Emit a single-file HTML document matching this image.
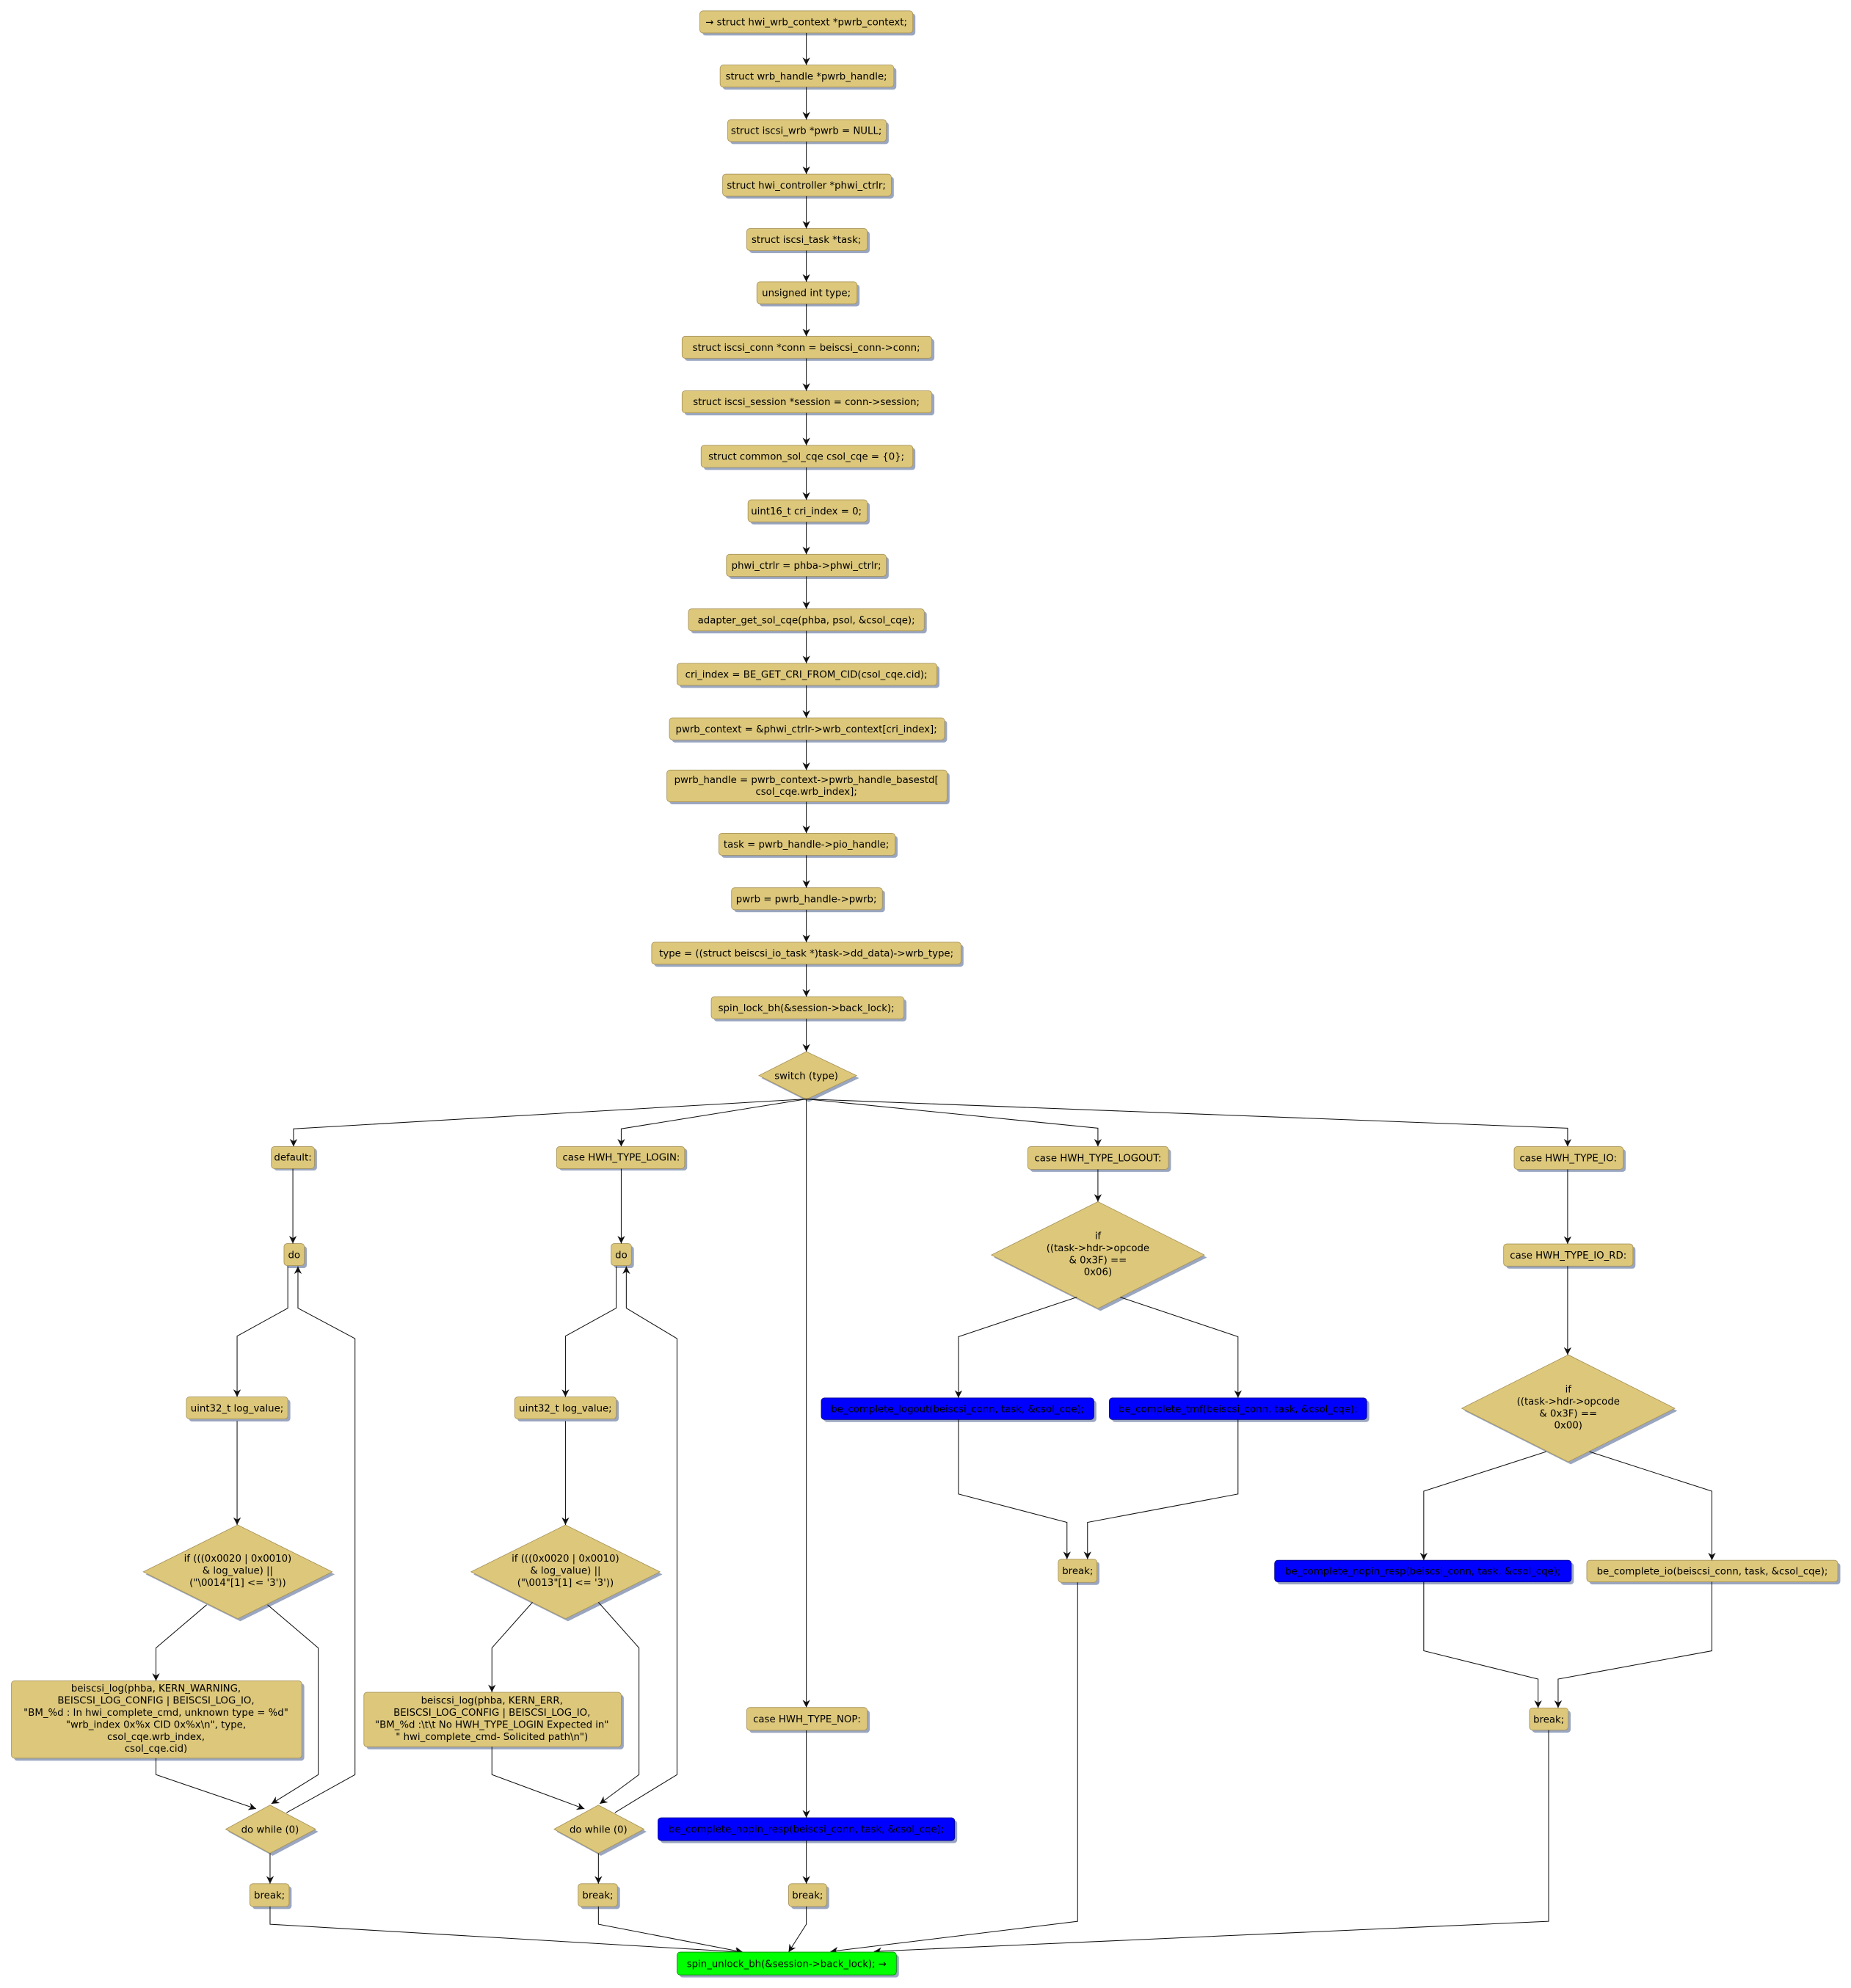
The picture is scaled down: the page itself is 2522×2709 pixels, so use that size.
<!DOCTYPE html>
<html><head><meta charset="utf-8"><style>
html,body{margin:0;padding:0;background:#fff;}
svg{display:block;}
text{font-family:"DejaVu Sans","Liberation Sans",sans-serif;font-size:7.7px;fill:#000;text-anchor:middle;}
.b{fill:#DCC77B;stroke:#A8945A;stroke-width:0.5;}
.bl{fill:#0000FF;stroke:#00008a;stroke-width:0.5;}
.gr{fill:#00FF00;stroke:#008a00;stroke-width:0.5;}
.s{fill:#9AA6C0;}
.e{fill:none;stroke:#111;stroke-width:0.6;}
</style></head><body>
<svg width="2522" height="2709" viewBox="0 0 1460 1568.3" xmlns="http://www.w3.org/2000/svg">
<defs>
<marker id="a" viewBox="0 0 10 10" refX="10" refY="5" markerUnits="userSpaceOnUse" markerWidth="6" markerHeight="6" orient="auto"><path d="M0,0 L10,5 L0,10 L3,5 z" fill="#111"/></marker>
</defs>

<g>
<rect class="s" x="554" y="10.6" width="168" height="17.4" rx="2.5"/><rect class="b" x="552" y="8.6" width="168" height="17.4" rx="2.5"/><text x="636" y="20">→ struct hwi_wrb_context *pwrb_context;</text>
<rect class="s" x="570" y="53.3" width="137" height="17.4" rx="2.5"/><rect class="b" x="568" y="51.3" width="137" height="17.4" rx="2.5"/><text x="636" y="62.7">struct wrb_handle *pwrb_handle;</text>
<rect class="s" x="576" y="96.3" width="125" height="17.4" rx="2.5"/><rect class="b" x="574" y="94.3" width="125" height="17.4" rx="2.5"/><text x="636" y="105.7">struct iscsi_wrb *pwrb = NULL;</text>
<rect class="s" x="572" y="139.3" width="133" height="17.4" rx="2.5"/><rect class="b" x="570" y="137.3" width="133" height="17.4" rx="2.5"/><text x="636" y="148.7">struct hwi_controller *phwi_ctrlr;</text>
<rect class="s" x="591" y="182.3" width="95" height="17.4" rx="2.5"/><rect class="b" x="589" y="180.3" width="95" height="17.4" rx="2.5"/><text x="636" y="191.7">struct iscsi_task *task;</text>
<rect class="s" x="599" y="224.3" width="79" height="17.4" rx="2.5"/><rect class="b" x="597" y="222.3" width="79" height="17.4" rx="2.5"/><text x="636" y="233.7">unsigned int type;</text>
<rect class="s" x="540" y="267.3" width="197" height="17.4" rx="2.5"/><rect class="b" x="538" y="265.3" width="197" height="17.4" rx="2.5"/><text x="636" y="276.7">struct iscsi_conn *conn = beiscsi_conn-&gt;conn;</text>
<rect class="s" x="540" y="310.3" width="197" height="17.4" rx="2.5"/><rect class="b" x="538" y="308.3" width="197" height="17.4" rx="2.5"/><text x="636" y="319.7">struct iscsi_session *session = conn-&gt;session;</text>
<rect class="s" x="555" y="353.3" width="167" height="17.4" rx="2.5"/><rect class="b" x="553" y="351.3" width="167" height="17.4" rx="2.5"/><text x="636" y="362.7">struct common_sol_cqe csol_cqe = {0};</text>
<rect class="s" x="592" y="396.3" width="94" height="17.4" rx="2.5"/><rect class="b" x="590" y="394.3" width="94" height="17.4" rx="2.5"/><text x="636" y="405.7">uint16_t cri_index = 0;</text>
<rect class="s" x="575" y="439.3" width="126" height="17.4" rx="2.5"/><rect class="b" x="573" y="437.3" width="126" height="17.4" rx="2.5"/><text x="636" y="448.7">phwi_ctrlr = phba-&gt;phwi_ctrlr;</text>
<rect class="s" x="545" y="482.3" width="186" height="17.4" rx="2.5"/><rect class="b" x="543" y="480.3" width="186" height="17.4" rx="2.5"/><text x="636" y="491.7">adapter_get_sol_cqe(phba, psol, &amp;csol_cqe);</text>
<rect class="s" x="536" y="525.3" width="205" height="17.4" rx="2.5"/><rect class="b" x="534" y="523.3" width="205" height="17.4" rx="2.5"/><text x="636" y="534.7">cri_index = BE_GET_CRI_FROM_CID(csol_cqe.cid);</text>
<rect class="s" x="530" y="568.3" width="217" height="17.4" rx="2.5"/><rect class="b" x="528" y="566.3" width="217" height="17.4" rx="2.5"/><text x="636" y="577.7">pwrb_context = &amp;phwi_ctrlr-&gt;wrb_context[cri_index];</text>
<rect class="s" x="528" y="609.5" width="221" height="25" rx="2.5"/><rect class="b" x="526" y="607.5" width="221" height="25" rx="2.5"/><text x="636" y="617.6">pwrb_handle = pwrb_context-&gt;pwrb_handle_basestd[</text><text x="636" y="627">csol_cqe.wrb_index];</text>
<rect class="s" x="569" y="659.3" width="139" height="17.4" rx="2.5"/><rect class="b" x="567" y="657.3" width="139" height="17.4" rx="2.5"/><text x="636" y="668.7">task = pwrb_handle-&gt;pio_handle;</text>
<rect class="s" x="579" y="702.3" width="119" height="17.4" rx="2.5"/><rect class="b" x="577" y="700.3" width="119" height="17.4" rx="2.5"/><text x="636" y="711.7">pwrb = pwrb_handle-&gt;pwrb;</text>
<rect class="s" x="516" y="745.3" width="244" height="17.4" rx="2.5"/><rect class="b" x="514" y="743.3" width="244" height="17.4" rx="2.5"/><text x="636" y="754.7">type = ((struct beiscsi_io_task *)task-&gt;dd_data)-&gt;wrb_type;</text>
<rect class="s" x="563" y="788.3" width="152" height="17.4" rx="2.5"/><rect class="b" x="561" y="786.3" width="152" height="17.4" rx="2.5"/><text x="636" y="797.7">spin_lock_bh(&amp;session-&gt;back_lock);</text>
<polygon class="s" points="638,831.6 677.6,850.5 638,869.3 600.6,850.5"/><polygon class="b" points="636,829.6 675.6,848.5 636,867.3 598.6,848.5"/><text x="636" y="851.2">switch (type)</text>
</g>

<g>
<line class="e" x1="636" y1="26" x2="636" y2="51.3" marker-end="url(#a)"/>
<line class="e" x1="636" y1="68.7" x2="636" y2="94.3" marker-end="url(#a)"/>
<line class="e" x1="636" y1="111.7" x2="636" y2="137.3" marker-end="url(#a)"/>
<line class="e" x1="636" y1="154.7" x2="636" y2="180.3" marker-end="url(#a)"/>
<line class="e" x1="636" y1="197.7" x2="636" y2="222.3" marker-end="url(#a)"/>
<line class="e" x1="636" y1="239.7" x2="636" y2="265.3" marker-end="url(#a)"/>
<line class="e" x1="636" y1="282.7" x2="636" y2="308.3" marker-end="url(#a)"/>
<line class="e" x1="636" y1="325.7" x2="636" y2="351.3" marker-end="url(#a)"/>
<line class="e" x1="636" y1="368.7" x2="636" y2="394.3" marker-end="url(#a)"/>
<line class="e" x1="636" y1="411.7" x2="636" y2="437.3" marker-end="url(#a)"/>
<line class="e" x1="636" y1="454.7" x2="636" y2="480.3" marker-end="url(#a)"/>
<line class="e" x1="636" y1="497.7" x2="636" y2="523.3" marker-end="url(#a)"/>
<line class="e" x1="636" y1="540.7" x2="636" y2="566.3" marker-end="url(#a)"/>
<line class="e" x1="636" y1="583.7" x2="636" y2="607.5" marker-end="url(#a)"/>
<line class="e" x1="636" y1="632.5" x2="636" y2="657.3" marker-end="url(#a)"/>
<line class="e" x1="636" y1="674.7" x2="636" y2="700.3" marker-end="url(#a)"/>
<line class="e" x1="636" y1="717.7" x2="636" y2="743.3" marker-end="url(#a)"/>
<line class="e" x1="636" y1="760.7" x2="636" y2="786.3" marker-end="url(#a)"/>
<line class="e" x1="636" y1="803.7" x2="636" y2="829.6" marker-end="url(#a)"/>
<polyline class="e" points="636,867 231.5,890.5 231.5,904.5" marker-end="url(#a)"/>
<polyline class="e" points="636,867 490,890.5 490,904.5" marker-end="url(#a)"/>
<polyline class="e" points="636,867 866,890 866,904.5" marker-end="url(#a)"/>
<polyline class="e" points="636,867 1236.5,890 1236.5,904.5" marker-end="url(#a)"/>
<line class="e" x1="636" y1="867" x2="636" y2="1347" marker-end="url(#a)"/>
</g>

<rect class="s" x="216" y="906" width="34" height="17.4" rx="2.5"/><rect class="b" x="214" y="904.5" width="34" height="17.4" rx="2.5"/><text x="231" y="915.7">default:</text>
<rect class="s" x="226" y="983" width="16" height="17.4" rx="2.5"/><rect class="b" x="224" y="981" width="16" height="17.4" rx="2.5"/><text x="232" y="992.5">do</text>
<rect class="s" x="149" y="1104" width="80" height="17.4" rx="2.5"/><rect class="b" x="147" y="1102" width="80" height="17.4" rx="2.5"/><text x="187" y="1113.6">uint32_t log_value;</text>
<polygon class="s" points="189.5,1205 264,1242 189.5,1279 115,1242"/><polygon class="b" points="187.5,1203 262,1240 187.5,1277 113,1240"/>
<text x="187.5" y="1232">if (((0x0020 | 0x0010)</text><text x="187.5" y="1241.5">&amp; log_value) ||</text><text x="187.5" y="1251">("\0014"[1] &lt;= '3'))</text>
<rect class="s" x="11" y="1328" width="229" height="61" rx="2.5"/><rect class="b" x="9" y="1326" width="229" height="61" rx="2.5"/>
<text x="123" y="1334.5">beiscsi_log(phba, KERN_WARNING,</text><text x="123" y="1344">BEISCSI_LOG_CONFIG | BEISCSI_LOG_IO,</text><text x="123" y="1353.5">"BM_%d : In hwi_complete_cmd, unknown type = %d"</text><text x="123" y="1363">"wrb_index 0x%x CID 0x%x\n", type,</text><text x="123" y="1372.5">csol_cqe.wrb_index,</text><text x="123" y="1382">csol_cqe.cid)</text>
<polygon class="s" points="215,1426 251,1445 215,1464 180,1445"/><polygon class="b" points="213,1424 249,1443 213,1462 178,1443"/><text x="213" y="1446">do while (0)</text>
<rect class="s" x="199" y="1488" width="31" height="18" rx="2.5"/><rect class="b" x="197" y="1486" width="31" height="18" rx="2.5"/><text x="212.5" y="1497.7">break;</text>
<g>
<line class="e" x1="231" y1="922" x2="231" y2="981" marker-end="url(#a)"/>
<polyline class="e" points="227,999 227,1032 187,1054 187,1102" marker-end="url(#a)"/>
<line class="e" x1="187" y1="1121" x2="187" y2="1203" marker-end="url(#a)"/>
<polyline class="e" points="163,1266 123,1300 123,1326" marker-end="url(#a)"/>
<polyline class="e" points="211,1266 251,1300 251,1400 214,1423" marker-end="url(#a)"/>
<polyline class="e" points="123,1387 123,1400 202,1427" marker-end="url(#a)"/>
<polyline class="e" points="226,1430 280,1400 280,1056 235,1032 235,999" marker-end="url(#a)"/>
<line class="e" x1="213" y1="1462" x2="213" y2="1486" marker-end="url(#a)"/>
<polyline class="e" points="213,1504 213,1518 586,1540" marker-end="url(#a)"/>
</g>

<rect class="s" x="441" y="906" width="101" height="17.4" rx="2.5"/><rect class="b" x="439" y="904.5" width="101" height="17.4" rx="2.5"/><text x="490" y="915.7">case HWH_TYPE_LOGIN:</text>
<rect class="s" x="484" y="983" width="16" height="17.4" rx="2.5"/><rect class="b" x="482" y="981" width="16" height="17.4" rx="2.5"/><text x="490" y="992.5">do</text>
<rect class="s" x="408" y="1104" width="80" height="17.4" rx="2.5"/><rect class="b" x="406" y="1102" width="80" height="17.4" rx="2.5"/><text x="446" y="1113.6">uint32_t log_value;</text>
<polygon class="s" points="448,1205 522.5,1242 448,1279 373.5,1242"/><polygon class="b" points="446,1203 520.5,1240 446,1277 371.5,1240"/>
<text x="446" y="1232">if (((0x0020 | 0x0010)</text><text x="446" y="1241.5">&amp; log_value) ||</text><text x="446" y="1251">("\0013"[1] &lt;= '3'))</text>
<rect class="s" x="289" y="1337" width="203" height="43" rx="2.5"/><rect class="b" x="287" y="1335" width="203" height="43" rx="2.5"/>
<text x="388" y="1344">beiscsi_log(phba, KERN_ERR,</text><text x="388" y="1353.5">BEISCSI_LOG_CONFIG | BEISCSI_LOG_IO,</text><text x="388" y="1363">"BM_%d :\t\t No HWH_TYPE_LOGIN Expected in"</text><text x="388" y="1372.5">" hwi_complete_cmd- Solicited path\n")</text>
<polygon class="s" points="474,1426 510,1445 474,1464 439,1445"/><polygon class="b" points="472,1424 508,1443 472,1462 437,1443"/><text x="472" y="1446">do while (0)</text>
<rect class="s" x="458" y="1488" width="31" height="18" rx="2.5"/><rect class="b" x="456" y="1486" width="31" height="18" rx="2.5"/><text x="471.5" y="1497.7">break;</text>
<g>
<line class="e" x1="490" y1="922" x2="490" y2="981" marker-end="url(#a)"/>
<polyline class="e" points="486,999 486,1032 446,1054 446,1102" marker-end="url(#a)"/>
<line class="e" x1="446" y1="1121" x2="446" y2="1203" marker-end="url(#a)"/>
<polyline class="e" points="420,1264 388,1300 388,1335" marker-end="url(#a)"/>
<polyline class="e" points="472,1264 504,1300 504,1400 473,1423" marker-end="url(#a)"/>
<polyline class="e" points="388,1378 388,1400 461,1427" marker-end="url(#a)"/>
<polyline class="e" points="485,1430 534,1400 534,1056 494,1032 494,999" marker-end="url(#a)"/>
<line class="e" x1="472" y1="1462" x2="472" y2="1486" marker-end="url(#a)"/>
<polyline class="e" points="472,1504 472,1518 586,1540" marker-end="url(#a)"/>
</g>

<rect class="s" x="591" y="1349" width="95" height="18" rx="2.5"/><rect class="b" x="589" y="1347" width="95" height="18" rx="2.5"/><text x="636.5" y="1358.7">case HWH_TYPE_NOP:</text>
<rect class="s" x="521" y="1436" width="234" height="18" rx="2.5"/><rect class="bl" x="519" y="1434" width="234" height="18" rx="2.5"/><text x="636" y="1445.7">be_complete_nopin_resp(beiscsi_conn, task, &amp;csol_cqe);</text>
<rect class="s" x="624" y="1488" width="30" height="18" rx="2.5"/><rect class="b" x="622" y="1486" width="30" height="18" rx="2.5"/><text x="637" y="1497.7">break;</text>
<g>
<line class="e" x1="636" y1="1365" x2="636" y2="1434" marker-end="url(#a)"/>
<line class="e" x1="636" y1="1452" x2="636" y2="1486" marker-end="url(#a)"/>
<polyline class="e" points="636,1504 636,1518 622,1540" marker-end="url(#a)"/>
</g>

<rect class="s" x="812.6" y="906.5" width="111" height="18" rx="2.5"/><rect class="b" x="810.6" y="904.5" width="111" height="18" rx="2.5"/><text x="866" y="916.2">case HWH_TYPE_LOGOUT:</text>
<polygon class="s" points="868,950 952,992 868,1034.2 784,992"/><polygon class="b" points="866,948 950,990 866,1032.2 782,990"/>
<text x="866" y="977.5">if</text><text x="866" y="987">((task-&gt;hdr-&gt;opcode</text><text x="866" y="996.5">&amp; 0x3F) ==</text><text x="866" y="1006">0x06)</text>
<rect class="s" x="649.8" y="1104.8" width="215" height="17" rx="2.5"/><rect class="bl" x="647.8" y="1102.8" width="215" height="17" rx="2.5"/><text x="755.3" y="1114">be_complete_logout(beiscsi_conn, task, &amp;csol_cqe);</text>
<rect class="s" x="877" y="1104.8" width="203" height="17" rx="2.5"/><rect class="bl" x="875" y="1102.8" width="203" height="17" rx="2.5"/><text x="976.5" y="1114">be_complete_tmf(beiscsi_conn, task, &amp;csol_cqe);</text>
<rect class="s" x="836.7" y="1232" width="30.5" height="18.3" rx="2.5"/><rect class="b" x="834.7" y="1230" width="30.5" height="18.3" rx="2.5"/><text x="850" y="1241.9">break;</text>
<g>
<line class="e" x1="866" y1="922.5" x2="866" y2="948" marker-end="url(#a)"/>
<polyline class="e" points="849.4,1023.3 756,1054.5 756,1102.8" marker-end="url(#a)"/>
<polyline class="e" points="883.6,1023.3 976.5,1054.5 976.5,1102.8" marker-end="url(#a)"/>
<polyline class="e" points="756,1119.8 756,1178.6 841.6,1201 841.6,1230" marker-end="url(#a)"/>
<polyline class="e" points="976.5,1119.8 976.5,1178.6 857.8,1201 857.8,1230" marker-end="url(#a)"/>
<polyline class="e" points="850,1248.3 850,1515.7 655,1539.5" marker-end="url(#a)"/>
</g>

<rect class="s" x="1196.3" y="906.5" width="86" height="18" rx="2.5"/><rect class="b" x="1194.3" y="904.5" width="86" height="18" rx="2.5"/><text x="1237" y="916.2">case HWH_TYPE_IO:</text>
<rect class="s" x="1188" y="983.3" width="102" height="17.5" rx="2.5"/><rect class="b" x="1186" y="981.3" width="102" height="17.5" rx="2.5"/><text x="1237" y="992.8">case HWH_TYPE_IO_RD:</text>
<polygon class="s" points="1239,1070.8 1323,1113 1239,1155.2 1155,1113"/><polygon class="b" points="1237,1068.8 1321,1111 1237,1153.2 1153,1111"/>
<text x="1237" y="1098.5">if</text><text x="1237" y="1108">((task-&gt;hdr-&gt;opcode</text><text x="1237" y="1117.5">&amp; 0x3F) ==</text><text x="1237" y="1127">0x00)</text>
<rect class="s" x="1007.4" y="1232.9" width="234" height="17" rx="2.5"/><rect class="bl" x="1005.4" y="1230.9" width="234" height="17" rx="2.5"/><text x="1122.4" y="1242.1">be_complete_nopin_resp(beiscsi_conn, task, &amp;csol_cqe);</text>
<rect class="s" x="1253.6" y="1232.9" width="198" height="17" rx="2.5"/><rect class="b" x="1251.6" y="1230.9" width="198" height="17" rx="2.5"/><text x="1350.6" y="1242.1">be_complete_io(beiscsi_conn, task, &amp;csol_cqe);</text>
<rect class="s" x="1208.4" y="1349.4" width="30.5" height="17.4" rx="2.5"/><rect class="b" x="1206.4" y="1347.4" width="30.5" height="17.4" rx="2.5"/><text x="1221.6" y="1358.9">break;</text>
<g>
<line class="e" x1="1236.5" y1="922.5" x2="1236.5" y2="981.3" marker-end="url(#a)"/>
<line class="e" x1="1236.5" y1="998.8" x2="1236.5" y2="1068.8" marker-end="url(#a)"/>
<polyline class="e" points="1219.6,1145.2 1123,1176.4 1123,1230.9" marker-end="url(#a)"/>
<polyline class="e" points="1253.7,1145.2 1350.3,1176.4 1350.3,1230.9" marker-end="url(#a)"/>
<polyline class="e" points="1123,1247.9 1123,1302.3 1213.2,1324.6 1213.2,1347.4" marker-end="url(#a)"/>
<polyline class="e" points="1350.3,1247.9 1350.3,1302.3 1229,1324.6 1229,1347.4" marker-end="url(#a)"/>
<polyline class="e" points="1221.5,1364.8 1221.5,1515.7 689.3,1539.5" marker-end="url(#a)"/>
</g>

<rect class="s" x="536" y="1542" width="173" height="18" rx="2.5"/><rect class="gr" x="534" y="1540" width="173" height="18" rx="2.5"/><text x="620.5" y="1551.7">spin_unlock_bh(&amp;session-&gt;back_lock); →</text>
</svg>
</body></html>
